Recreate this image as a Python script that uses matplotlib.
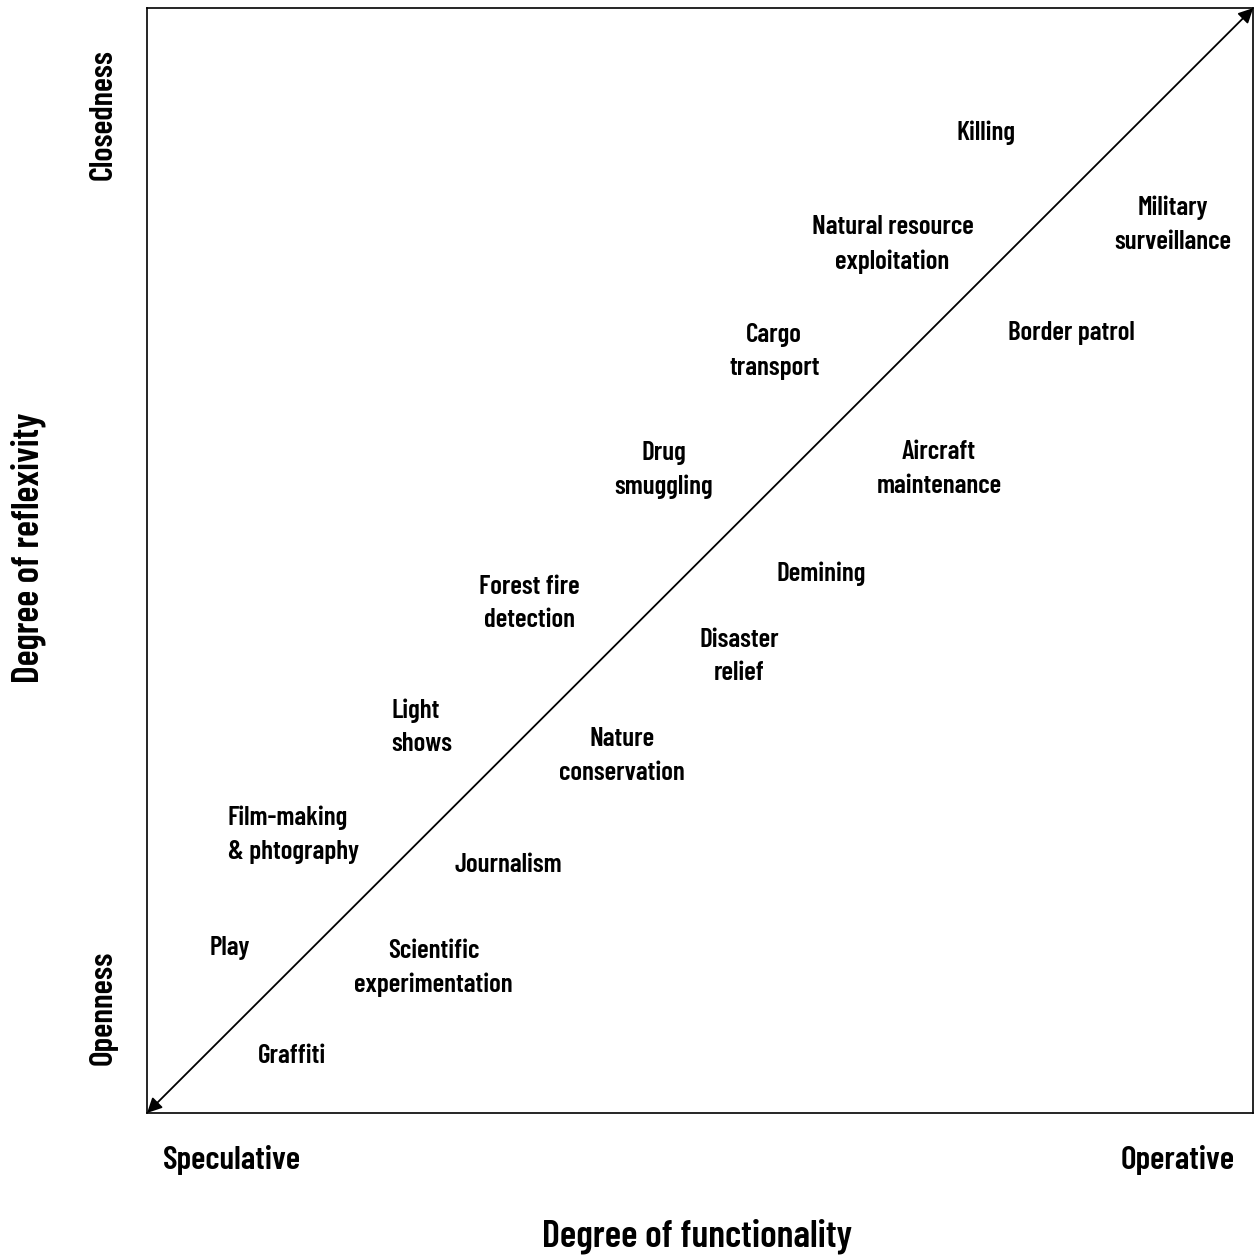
import matplotlib
matplotlib.use('Agg')
from matplotlib import pyplot as plt

plt.rcParams['font.family'] = ['Barlow Condensed', 'Sofia Sans Condensed', 'Roboto Condensed', 'DejaVu Sans']
plt.rcParams['font.weight'] = 600

# labels placed on a 0-100 x 0-100 grid
labels = ['Killing', 'Military\nsurveillance', 'Natural resource\nexploitation',
          'Border patrol', 'Cargo\ntransport', 'Drug\nsmuggling',
          'Aircraft\nmaintenance', 'Demining', 'Forest fire\ndetection',
          'Disaster\nrelief', 'Light\nshows', 'Nature\nconservation',
          'Film-making\n& phtography', 'Journalism', 'Play',
          'Scientific\nexperimentation', 'Graffiti']
label_x = [75.8, 92.7, 67.4, 83.6, 56.7, 46.7, 71.6, 60.9, 34.6,
           53.5, 22.1, 42.9, 7.3, 32.7, 7.5, 25.9, 13.1]
label_y = [88.7, 80.4, 78.6, 70.6, 68.9, 58.2, 58.3, 48.8, 46.1,
           41.3, 34.9, 32.3, 25.2, 22.4, 14.9, 13.1, 5.2]
label_ha = ['center'] * 10 + ['left', 'center', 'left'] + ['center'] * 4

fig = plt.figure(figsize=(12.57, 12.59), dpi=100)
ax = fig.add_axes([0.117, 0.116, 0.880, 0.8776])
ax.set_xlim(0, 100)
ax.set_ylim(0, 100)
ax.set_xticks([])
ax.set_yticks([])
for s in ax.spines.values():
    s.set_linewidth(1.2)

# diagonal double arrow
ax.annotate('', xy=(100, 100), xytext=(0, 0),
            arrowprops=dict(arrowstyle='<|-|>', color='black', lw=1.3,
                            mutation_scale=22, shrinkA=0, shrinkB=0))

for t, x, y, ha in zip(labels, label_x, label_y, label_ha):
    ax.text(x, y, t, ha=ha, va='center', fontsize=19.5, linespacing=1.5,
            multialignment=ha)

fig.text(163 / 1257, 1 - 1160 / 1259, 'Speculative', ha='left', va='center', fontsize=24)
fig.text(1235 / 1257, 1 - 1160 / 1259, 'Operative', ha='right', va='center', fontsize=24)
fig.text(697 / 1257, 1 - 1236 / 1259, 'Degree of functionality', ha='center', va='center', fontsize=27.5)
fig.text(103 / 1257, 1 - 115 / 1259, 'Closedness', ha='center', va='center', fontsize=23.5, rotation=90)
fig.text(103 / 1257, 1 - 1008 / 1259, 'Openness', ha='center', va='center', fontsize=24, rotation=90)
fig.text(28 / 1257, 1 - 548 / 1259, 'Degree of reflexivity', ha='center', va='center', fontsize=27, rotation=90)

fig.savefig('out.png', dpi=100)
